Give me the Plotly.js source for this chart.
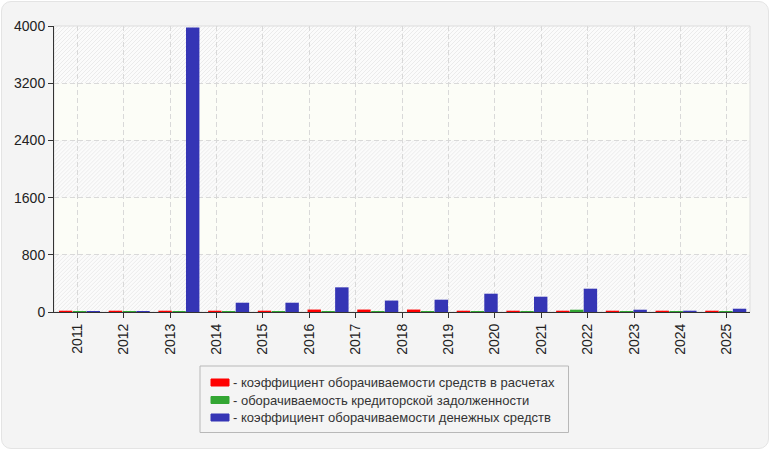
<!DOCTYPE html>
<html>
<head>
<meta charset="utf-8">
<script src="https://cdn.plot.ly/plotly-3.0.1.min.js"></script>
<style>
	body { margin: 0; background: #ffffff; }
	#frame {
		position: absolute; left: 1px; top: 1px; width: 766px; height: 446px;
		background: #f4f4f4; border: 1px solid #e4e4e4; border-radius: 10px;
	}
	#chart { position: absolute; left: 0; top: 0; width: 770px; height: 450px; }
</style>
</head>
<body>
<div id="frame"></div>
<div id="chart"></div>
<script>
// tick labels along the bottom (15 of them)
const yearLabels = ["2011", "2012", "2013", "2014", "2015", "2016", "2017", "2018",
	"2019", "2020", "2021", "2022", "2023", "2024", "2025"]

// the bar groups themselves (only 14 groups are drawn in the source)
const groupLabels = ["g2011", "g2012", "g2013", "g2014", "g2015", "g2016", "g2017",
	"g2018", "g2019", "g2020", "g2021", "g2022", "g2023", "g2024"]

const seriesNames = [
	"- коэффициент оборачиваемости средств в расчетах",
	"- оборачиваемость кредиторской задолженности",
	"- коэффициент оборачиваемости денежных средств"
]

const receivablesTurnover = [18, 18, 18, 18, 18, 34, 34, 34, 18, 18, 18, 18, 18, 18]
const payablesTurnover = [14, 14, 14, 14, 14, 14, 14, 14, 14, 14, 32, 14, 14, 14]
const cashTurnover = [14, 14, 3980, 130, 130, 345, 160, 172, 256, 214, 326, 32, 18, 46]

const yMax = 4000
const yStep = 800

var colors = ["#ff0000", "#33a633", "#3535b5"]
var offsets = [-0.40, -0.12, 0.155]
var barWidth = 0.27
var allSeries = [receivablesTurnover, payablesTurnover, cashTurnover]

// plot area in pixels, used to place the hand-made legend
const plotLeft = 54, plotWidth = 696, plotBottom = 312, plotHeight = 286
function px(xp) { return (xp - plotLeft) / plotWidth }
function py(yp) { return (plotBottom - yp) / plotHeight }

// diagonal hatch as an svg image
function hatchSvg(w, h) {
	var svg = '<svg xmlns="http://www.w3.org/2000/svg" width="' + w + '" height="' + h +
		'" viewBox="0 0 ' + w + ' ' + h + '" preserveAspectRatio="none">' +
		'<defs><pattern id="p" width="4" height="4" patternUnits="userSpaceOnUse">' +
		'<rect width="4" height="4" fill="#fbfbfb"/>' +
		'<path d="M-1,1 L1,-1 M0,4 L4,0 M3,5 L5,3" stroke="#ebebeb" stroke-width="1"/>' +
		'</pattern></defs><rect width="' + w + '" height="' + h + '" fill="url(#p)"/></svg>'
	return "data:image/svg+xml;charset=utf-8," + encodeURIComponent(svg)
}

// invisible trace so the label axis exists
var data = [{
	type: "scatter",
	mode: "markers",
	x: yearLabels.map((v, k) => k),
	y: yearLabels.map(() => null),
	showlegend: false,
	hoverinfo: "skip"
}]

for (var i = 0; i < allSeries.length; ++i)
{
	data.push({
		type: "bar",
		name: seriesNames[i],
		x: groupLabels,
		y: allSeries[i],
		xaxis: "x2",
		width: barWidth,
		offset: offsets[i],
		marker: { color: colors[i], line: { width: 0 } },
		showlegend: false,
		hoverinfo: "skip"
	})
}

// background bands: hatched / plain alternating
var shapes = []
var images = []
var bandPx = plotHeight * yStep / yMax
for (var b = 0, k = 0; b < yMax; b += yStep, ++k)
{
	if (k % 2 == 0)
	{
		images.push({
			source: hatchSvg(plotWidth, bandPx),
			xref: "paper", yref: "paper",
			x: 0, y: (b + yStep) / yMax,
			sizex: 1, sizey: yStep / yMax,
			xanchor: "left", yanchor: "top",
			sizing: "stretch",
			layer: "below"
		})
	}
	else
	{
		shapes.push({
			type: "rect", layer: "below", xref: "paper", yref: "y",
			x0: 0, x1: 1, y0: b, y1: b + yStep,
			fillcolor: "#fcfdf7",
			line: { width: 0 }
		})
	}
}
// light frame at top / right of plot area
shapes.push({
	type: "rect", layer: "below", xref: "paper", yref: "paper",
	x0: 0, x1: 1, y0: 0, y1: 1,
	line: { color: "#dddddd", width: 1 }
})

// legend box, swatches and texts
var annotations = []
shapes.push({
	type: "rect", layer: "above", xref: "paper", yref: "paper",
	x0: px(200), x1: px(568.5), y0: py(366), y1: py(432.5),
	line: { color: "#b8b8b8", width: 1 }
})
var rowY = [382.5, 400, 417.5]
for (var i = 0; i < seriesNames.length; ++i)
{
	shapes.push({
		type: "rect", layer: "above", xref: "paper", yref: "paper",
		x0: px(211), x1: px(229), y0: py(rowY[i] - 3.5), y1: py(rowY[i] + 3.5),
		fillcolor: colors[i],
		line: { color: colors[i], width: 1 }
	})
	annotations.push({
		xref: "paper", yref: "paper",
		x: px(231), y: py(rowY[i]),
		xanchor: "left", yanchor: "middle",
		text: seriesNames[i],
		showarrow: false,
		font: { size: 13, color: "#333333" }
	})
}

var layout = {
	width: 770,
	height: 450,
	margin: { l: 54, r: 20, t: 26, b: 138, pad: 0 },
	paper_bgcolor: "rgba(0,0,0,0)",
	plot_bgcolor: "rgba(0,0,0,0)",
	font: { family: "Liberation Sans, Arial, sans-serif", size: 14, color: "#222222" },
	showlegend: false,
	xaxis: {
		range: [-0.5, yearLabels.length - 0.5],
		tickmode: "array",
		tickvals: yearLabels.map((v, k) => k),
		ticktext: yearLabels,
		tickangle: -90,
		ticks: "outside",
		ticklen: 5,
		tickcolor: "#333333",
		showline: true,
		linecolor: "#333333",
		linewidth: 1,
		showgrid: true,
		gridcolor: "#d9d9d9",
		griddash: "5px,3px",
		zeroline: false,
		fixedrange: true
	},
	xaxis2: {
		overlaying: "x",
		type: "category",
		range: [-0.5, groupLabels.length - 0.5],
		visible: false,
		fixedrange: true
	},
	yaxis: {
		range: [0, yMax],
		dtick: yStep,
		tick0: 0,
		ticks: "outside",
		ticklen: 5,
		tickcolor: "#333333",
		showline: true,
		linecolor: "#333333",
		linewidth: 1,
		showgrid: true,
		gridcolor: "#d9d9d9",
		griddash: "5px,3px",
		zeroline: false,
		fixedrange: true
	},
	barmode: "overlay",
	shapes: shapes,
	images: images,
	annotations: annotations
}

var config = { displayModeBar: false, staticPlot: true }

Plotly.newPlot("chart", data, layout, config)
</script>
</body>
</html>
